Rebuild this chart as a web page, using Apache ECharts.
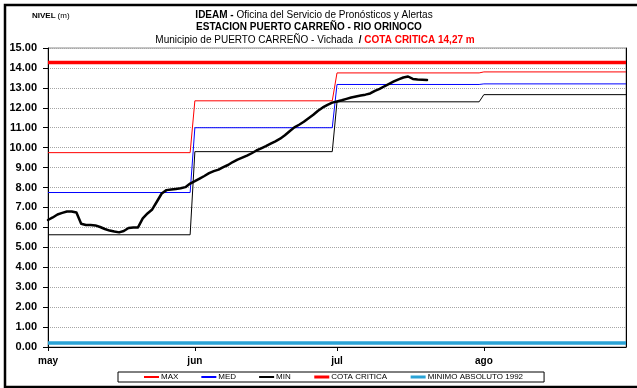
<!DOCTYPE html>
<html>
<head>
<meta charset="utf-8">
<script src="https://cdn.jsdelivr.net/npm/echarts@6/dist/echarts.min.js"></script>
<style>
  html, body { margin: 0; padding: 0; background: #fff; }
  #chart { width: 637px; height: 388px; }
</style>
</head>
<body>
<div id="chart"></div>
<script>
// Month ticks along the x axis (day 0 = 1 May)
const monthLabels = ['may', 'jun', 'jul', 'ago'];
const monthStartDay = [0, 31, 61, 92];
const lastDay = 122;

// Monthly historical reference levels (m), one value per month
const maxMensual = [9.75, 12.35, 13.75, 13.80];
const medMensual = [7.75, 11.00, 13.17, 13.20];
const minMensual = [5.63, 9.80, 12.30, 12.66];

// Fixed reference levels (m)
const cotaCritica = 14.27;
const minimoAbsoluto1992 = 0.20;

// Daily observed level (m) from 1 May
const nivelDiario = [
  6.37, 6.50, 6.65, 6.73, 6.80, 6.80, 6.75, 6.18, 6.12, 6.12,
  6.10, 6.02, 5.92, 5.84, 5.79, 5.75, 5.82, 5.97, 6.00, 6.00,
  6.45, 6.70, 6.90, 7.30, 7.70, 7.87, 7.90, 7.93, 7.96, 8.02,
  8.20, 8.32, 8.45, 8.58, 8.72, 8.82, 8.90, 9.02, 9.13, 9.28,
  9.40, 9.50, 9.60, 9.72, 9.86, 9.97, 10.08, 10.20, 10.32, 10.45,
  10.62, 10.82, 11.02, 11.15, 11.30, 11.48, 11.65, 11.85, 12.02, 12.15,
  12.26, 12.32, 12.38, 12.45, 12.52, 12.57, 12.62, 12.66, 12.72, 12.85,
  12.95, 13.08, 13.20, 13.32, 13.43, 13.52, 13.57, 13.45, 13.42, 13.41,
  13.40
];

// Y axis range (m)
const yMin = 0, yMax = 15, yStep = 1;

const FONT = "'Liberation Sans', Arial, sans-serif";

// Expand monthly values into flat segments, one per month
function monthlySteps(values) {
  const pts = [];
  values.forEach((v, i) => {
    const start = monthStartDay[i];
    const end = i + 1 < monthStartDay.length ? monthStartDay[i + 1] - 1 : lastDay;
    pts.push([start, v], [end, v]);
  });
  return pts;
}
function constantLine(v) { return [[0, v], [lastDay, v]]; }

const chart = echarts.init(document.getElementById('chart'), null, { renderer: 'canvas' });

chart.setOption({
  animation: false,
  backgroundColor: '#fff',
  grid: {
    left: 48, right: 11, top: 48, bottom: 41,
    show: true, borderColor: '#8c8c8c', borderWidth: 1, backgroundColor: 'transparent'
  },
  xAxis: {
    type: 'value', min: 0, max: lastDay,
    axisLine: { lineStyle: { color: '#000', width: 1 } },
    axisTick: { show: true, customValues: monthStartDay, length: 4, lineStyle: { color: '#000' } },
    axisLabel: {
      customValues: monthStartDay,
      formatter: v => monthLabels[monthStartDay.indexOf(v)] || '',
      color: '#000', fontWeight: 'bold', fontSize: 10, fontFamily: FONT, margin: 9
    },
    splitLine: { show: false }
  },
  yAxis: [{
    type: 'value', min: yMin, max: yMax, interval: yStep,
    axisLine: { show: true, lineStyle: { color: '#000', width: 1 } },
    axisTick: { show: true, length: 5, lineStyle: { color: '#000' } },
    axisLabel: {
      formatter: v => v.toFixed(2),
      color: '#000', fontWeight: 'bold', fontSize: 11, fontFamily: FONT, margin: 11
    },
    splitLine: { show: true, lineStyle: { color: '#a6a6a6', type: 'dotted', width: 1 } }
  }, {
    type: 'value', min: yMin, max: yMax, interval: yStep, position: 'right',
    axisLine: { show: true, lineStyle: { color: '#000', width: 1 } },
    axisTick: { show: false }, axisLabel: { show: false }, splitLine: { show: false }
  }],
  legend: {
    data: [
      { name: 'MAX' },
      { name: 'MED' },
      { name: 'MIN' },
      { name: 'COTA CRITICA', lineStyle: { width: 3 } },
      { name: 'MINIMO ABSOLUTO 1992', lineStyle: { width: 3 } }
    ],
    left: 118, top: 372, orient: 'horizontal',
    itemWidth: 15, itemHeight: 9, itemGap: 22,
    padding: [1, 21, 1, 25],
    borderColor: '#000', borderWidth: 1, borderRadius: 0, backgroundColor: '#fff',
    selectedMode: false,
    // line-only keys: the marker dot is hidden
    itemStyle: { opacity: 0 },
    textStyle: { fontSize: 8, color: '#000', fontFamily: FONT, padding: [0, 0, 0, -3] }
  },
  graphic: [
    {
      type: 'rect', silent: true, z: 100,
      shape: { x: 5, y: 5, width: 650, height: 382 },
      style: { fill: 'none', stroke: '#000', lineWidth: 2.5 }
    },
    {
      type: 'text', x: 32, y: 16,
      style: {
        text: '{b|NIVEL}{n|(m)}', verticalAlign: 'middle',
        rich: {
          b: { fontWeight: 'bold', fontSize: 8, fontFamily: FONT, fill: '#000' },
          n: { fontSize: 8, fontFamily: FONT, fill: '#000', padding: [0, 0, 0, 2] }
        }
      }
    },
    {
      type: 'text', x: 314, y: 15,
      style: {
        text: '{b|IDEAM - }{n|Oficina del Servicio de Pronósticos y Alertas}',
        align: 'center', verticalAlign: 'middle',
        rich: {
          b: { fontWeight: 'bold', fontSize: 10, fontFamily: FONT, fill: '#000' },
          n: { fontSize: 10, fontFamily: FONT, fill: '#000' }
        }
      }
    },
    {
      type: 'text', x: 309, y: 27,
      style: {
        text: 'ESTACION PUERTO CARREÑO - RIO ORINOCO',
        align: 'center', verticalAlign: 'middle',
        font: 'bold 10px ' + FONT, fill: '#000'
      }
    },
    {
      type: 'text', x: 315, y: 40,
      style: {
        text: '{n|Municipio de PUERTO CARREÑO - Vichada }{b| / }{r|COTA CRITICA 14,27 m}',
        align: 'center', verticalAlign: 'middle',
        rich: {
          n: { fontSize: 10, fontFamily: FONT, fill: '#000' },
          b: { fontWeight: 'bold', fontSize: 10, fontFamily: FONT, fill: '#000' },
          r: { fontWeight: 'bold', fontSize: 10, fontFamily: FONT, fill: '#ff0000' }
        }
      }
    }
  ],
  series: [
    {
      name: 'MINIMO ABSOLUTO 1992', type: 'line', symbol: 'none',
      data: constantLine(minimoAbsoluto1992),
      lineStyle: { color: '#2aa3d6', width: 3.5 }, itemStyle: { color: '#2aa3d6' }, z: 2
    },
    {
      name: 'COTA CRITICA', type: 'line', symbol: 'none',
      data: constantLine(cotaCritica),
      lineStyle: { color: '#ff0000', width: 3.5 }, itemStyle: { color: '#ff0000' }, z: 2
    },
    {
      name: 'MAX', type: 'line', symbol: 'none',
      data: monthlySteps(maxMensual),
      lineStyle: { color: '#ff0000', width: 1 }, itemStyle: { color: '#ff0000' }, z: 3
    },
    {
      name: 'MED', type: 'line', symbol: 'none',
      data: monthlySteps(medMensual),
      lineStyle: { color: '#0000ff', width: 1 }, itemStyle: { color: '#0000ff' }, z: 3
    },
    {
      name: 'MIN', type: 'line', symbol: 'none',
      data: monthlySteps(minMensual),
      lineStyle: { color: '#000', width: 1 }, itemStyle: { color: '#000' }, z: 3
    },
    {
      name: 'NIVEL DIARIO', type: 'line', symbol: 'none',
      data: nivelDiario.map((v, i) => [i, v]),
      lineStyle: { color: '#000', width: 2.5, join: 'round', cap: 'round' },
      itemStyle: { color: '#000' }, z: 4
    }
  ]
});
</script>
</body>
</html>
